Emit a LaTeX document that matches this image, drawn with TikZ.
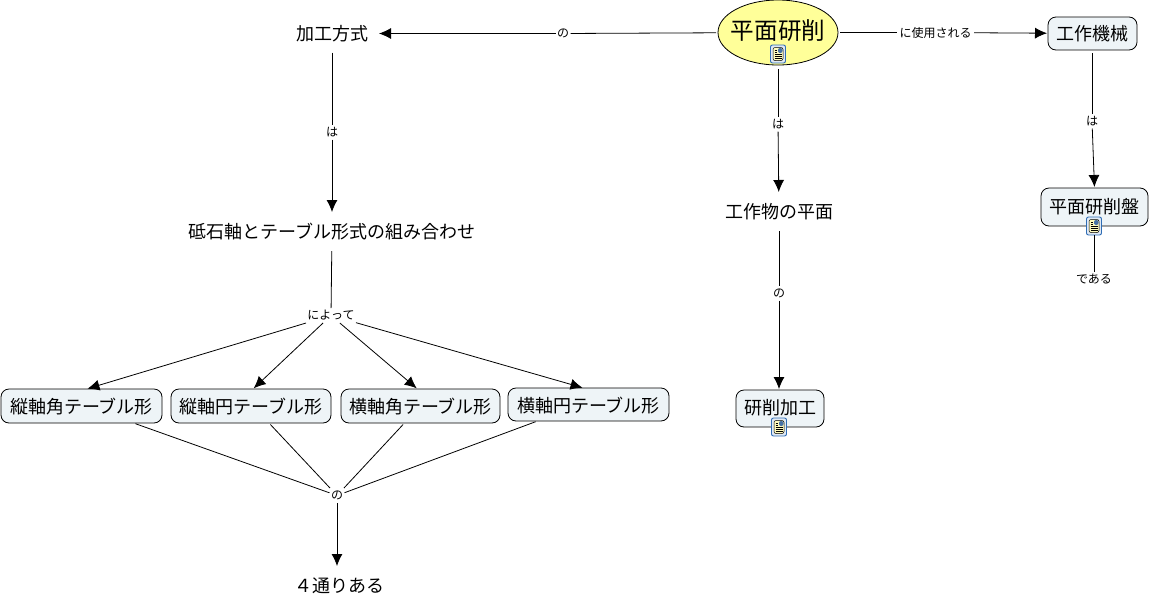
\documentclass[tikz,border=0pt]{standalone}
\usepackage{fontspec}
\setmainfont{Noto Sans CJK JP}
\usetikzlibrary{shapes.geometric,arrows.meta}
\definecolor{boxfill}{HTML}{EEF4F7}
\definecolor{ovalfill}{HTML}{FFFF99}
\definecolor{iconblue}{HTML}{2F6DB5}
\tikzset{
  every node/.style={inner sep=0pt,outer sep=0pt},
  fs/.style={font=\fontsize{#1}{#1}\selectfont},
  link/.style={draw=black,line width=0.8pt},
  arrowlink/.style={link,-{Latex[length=12pt,width=11pt]},shorten >=1pt},
  lbl/.style={fs=12,text=black,fill=white,minimum height=15pt,minimum width=15pt},
  plain/.style={fs=18,text=black,minimum height=38pt,inner xsep=10pt},
  boxtext/.style={fs=18,text=black},
  conceptbox/.style={draw=black,line width=0.8pt,fill=boxfill,rounded corners=8pt,anchor=north west},
  mainoval/.style={ellipse,draw=black,line width=0.8pt,fill=ovalfill,minimum width=120pt,minimum height=65pt},
  iconbox/.style={draw=iconblue,line width=0.9pt,fill=iconblue!15,rounded corners=2pt,minimum width=15pt,minimum height=18pt,
    path picture={
      \fill[yellow!25] ([shift={(-5pt,-6.5pt)}]path picture bounding box.center) rectangle ([shift={(5pt,6.5pt)}]path picture bounding box.center);
      \draw[black,line width=0.5pt] ([shift={(-5pt,-6.5pt)}]path picture bounding box.center) rectangle ([shift={(5pt,6.5pt)}]path picture bounding box.center);
      \foreach \q in {-4,-2,0}{\draw[black,line width=0.6pt] ([shift={(-3.5pt,\q pt)}]path picture bounding box.center) -- ([shift={(3.5pt,\q pt)}]path picture bounding box.center);}
      \draw[black,line width=0.6pt] ([shift={(-3.5pt,2pt)}]path picture bounding box.center) -- ([shift={(-1pt,2pt)}]path picture bounding box.center);
      \draw[black,line width=0.6pt] ([shift={(-3.5pt,4pt)}]path picture bounding box.center) -- ([shift={(-1pt,4pt)}]path picture bounding box.center);
      \fill[iconblue!70!gray] ([shift={(0pt,1pt)}]path picture bounding box.center) rectangle ([shift={(4.5pt,6pt)}]path picture bounding box.center);
    }},
}
\begin{document}
\begin{tikzpicture}[x=1pt,y=-1pt]
\useasboundingbox (0,0) rectangle (1149,603);
% concepts
\node[mainoval] (main) at (778,32.5) {};
\node[fs=23.6,text=black] at (778,31) {平面研削};
\node[iconbox] (mainicon) at (778,54) {};
\node[plain] (method) at (332,33.5) {加工方式};
\node[plain] (combo) at (332,232) {砥石軸とテーブル形式の組み合わせ};
\node[plain] (work) at (779,212) {工作物の平面};
\node[plain] (four) at (339,586) {４通りある};
\node[conceptbox,minimum width=89pt,minimum height=33pt] (tool) at (1048,17) {};
\node[boxtext] at (1092.5,34) {工作機械};
\node[conceptbox,minimum width=107pt,minimum height=38pt] (grinder) at (1041,188) {};
\node[boxtext] at (1094.5,206.5) {平面研削盤};
\node[iconbox] (grindericon) at (1094,226) {};
\node[conceptbox,minimum width=88pt,minimum height=37pt] (proc) at (736,390) {};
\node[boxtext] at (780,408) {研削加工};
\node[iconbox] (procicon) at (779,427) {};
\node[conceptbox,minimum width=161pt,minimum height=34pt] (t1) at (1,389) {};
\node[boxtext] at (81.5,407) {縦軸角テーブル形};
\node[conceptbox,minimum width=160pt,minimum height=34pt] (t2) at (171,389) {};
\node[boxtext] at (251,407) {縦軸円テーブル形};
\node[conceptbox,minimum width=159pt,minimum height=34pt] (t3) at (341,389) {};
\node[boxtext] at (420.5,407) {横軸角テーブル形};
\node[conceptbox,minimum width=161pt,minimum height=33pt] (t4) at (508,388) {};
\node[boxtext] at (588.5,406) {横軸円テーブル形};
% labels
\node[lbl] (lno) at (563,33.5) {の};
\node[lbl,minimum width=77pt] (luse) at (935.5,32.5) {に使用される};
\node[lbl] (lha1) at (778,124) {は};
\node[lbl] (lno2) at (779,293) {の};
\node[lbl] (lha2) at (1092,121) {は};
\node[lbl,minimum width=36pt] (ldearu) at (1094,279) {である};
\node[lbl] (lha3) at (332,132) {は};
\node[lbl,minimum width=50pt] (lyotte) at (331,315.5) {によって};
\node[lbl] (lno3) at (337,495.5) {の};
% connectors
\draw[link,shorten <=2pt] (main) -- (lno);
\draw[arrowlink] (lno) -- (method.east |- lno);
\draw[link,shorten <=2pt] (main) -- (luse);
\draw[arrowlink] (luse) -- (tool);
\draw[link] (mainicon.south |- 778,69) -- (lha1);
\draw[arrowlink] (lha1) -- (work);
\draw[link] (work) -- (lno2);
\draw[arrowlink] (lno2) -- (proc.north -| lno2);
\draw[link] (tool.south -| lha2) ++(0,3) -- (lha2);
\draw[arrowlink] (lha2) -- (grinder.north);
\draw[link] (grindericon) -- (ldearu);
\draw[link] (method) -- (lha3);
\draw[arrowlink] (lha3) -- (combo);
\draw[link] (combo) -- (lyotte);
\draw[arrowlink] (lyotte) -- ([xshift=5pt]t1.north);
\draw[arrowlink] (lyotte) -- ([xshift=2pt]t2.north);
\draw[arrowlink] (lyotte) -- ([xshift=-3pt]t3.north);
\draw[arrowlink] (lyotte) -- ([xshift=-5pt]t4.north);
\draw[link,shorten <=2pt] (t1.south) ++(52,0) coordinate (a1) -- (lno3);
\draw[link,shorten <=2pt] (t2.south) ++(18,0) coordinate (a2) -- (lno3);
\draw[link,shorten <=2pt] (t3.south) ++(-16,0) coordinate (a3) -- (lno3);
\draw[link,shorten <=2pt] (t4.south) ++(-51,0) coordinate (a4) -- (lno3);
\draw[arrowlink] (lno3) -- (lno3 |- four.north);
\end{tikzpicture}
\end{document}
